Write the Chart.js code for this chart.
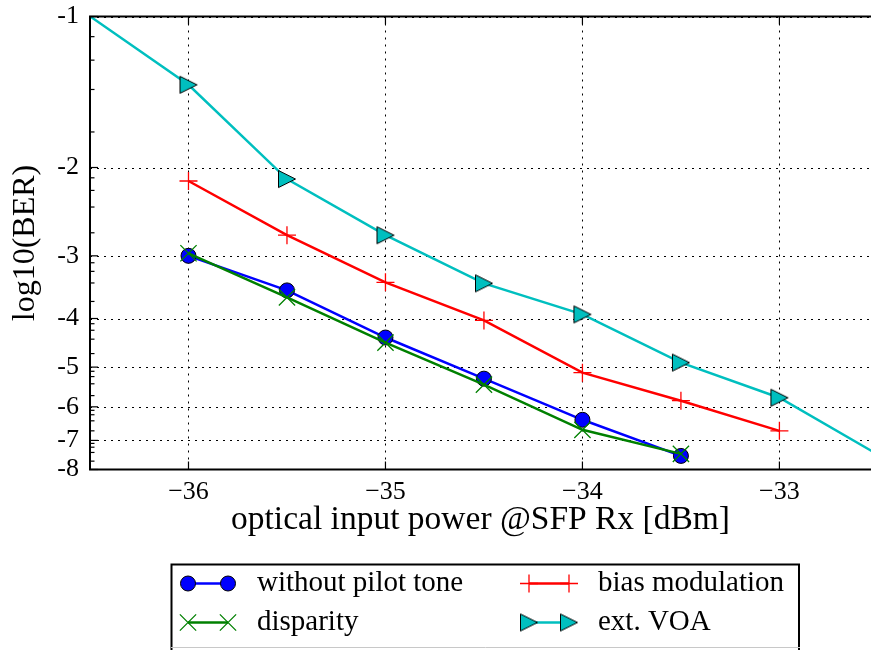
<!DOCTYPE html>
<html><head><meta charset="utf-8">
<script src="https://cdn.jsdelivr.net/npm/chart.js@4/dist/chart.umd.min.js"></script>
<style>
html,body{margin:0;padding:0;overflow:hidden;background:#fff;width:871px;height:650px;}
#wrap{position:relative;width:871px;height:650px;}
canvas{display:block;}
</style></head><body>
<div id="wrap"><canvas id="c" width="871" height="650" style="width:871px;height:650px"></canvas></div>
<script>
// values are -log10(BER); axis shows log10(BER)
const pilotPowers = [-36, -35.5, -35, -34.5, -34, -33.5];
const withoutPilotTone = [3.0, 3.516, 4.365, 5.272, 6.368, 7.516];
const disparityPowers = [-36, -35.5, -35, -34.5, -34, -33.5];
const disparity = [2.965, 3.631, 4.467, 5.420, 6.668, 7.447];
const biasPowers = [-36, -35.5, -35, -34.5, -34, -33.5, -33];
const biasModulation = [2.128, 2.729, 3.388, 4.036, 5.129, 5.834, 6.699];
const voaPowers = [-37, -36, -35.5, -35, -34.5, -34, -33.5, -33, -32];
const extVOA = [0.73, 1.368, 2.109, 2.729, 3.404, 3.926, 4.898, 5.754, 9.7];
const xTicks = [-36, -35, -34, -33];
const yTicks = [1, 2, 3, 4, 5, 6, 7, 8];
const yMinorMantissas = [8, 6, 4, 2];
const seriesLabels = ['without pilot tone', 'disparity', 'bias modulation', 'ext. VOA'];

const FONT = "'Liberation Serif', 'Times New Roman', serif";
Chart.defaults.font.family = FONT;
Chart.defaults.color = '#000';

function triImg() {
  const c = document.createElement('canvas');
  c.width = 20; c.height = 20;
  const g = c.getContext('2d');
  g.beginPath(); g.moveTo(18.5, 10); g.lineTo(1.5, 1.5); g.lineTo(1.5, 18.5); g.closePath();
  g.fillStyle = '#00bfbf'; g.fill();
  g.lineWidth = 1; g.strokeStyle = '#000'; g.stroke();
  return c;
}
const TRI = triImg();
const pts = (xs, ys) => xs.map((x, i) => ({x: x, y: ys[i]}));

const datasets = [
  {label: seriesLabels[0], data: pts(pilotPowers, withoutPilotTone), borderColor: '#0000ff', borderWidth: 2.5,
   pointStyle: 'circle', pointRadius: 7.5, pointBackgroundColor: '#0000ff', pointBorderColor: '#000', pointBorderWidth: 1, order: 4},
  {label: seriesLabels[1], data: pts(disparityPowers, disparity), borderColor: '#008000', borderWidth: 2.5,
   pointStyle: 'crossRot', pointRadius: 11.5, pointBackgroundColor: '#008000', pointBorderColor: '#008000', pointBorderWidth: 1.3, order: 3},
  {label: seriesLabels[2], data: pts(biasPowers, biasModulation), borderColor: '#ff0000', borderWidth: 2.5,
   pointStyle: 'cross', pointRadius: 9, pointBackgroundColor: '#ff0000', pointBorderColor: '#ff0000', pointBorderWidth: 1.3, order: 2},
  {label: seriesLabels[3], data: pts(voaPowers, extVOA), borderColor: '#00bfbf', borderWidth: 2.5,
   pointStyle: TRI, pointRadius: 9, pointBackgroundColor: '#00bfbf', pointBorderColor: '#000', pointBorderWidth: 1, order: 1}
];

function line(ctx, x1, y1, x2, y2) { ctx.beginPath(); ctx.moveTo(x1, y1); ctx.lineTo(x2, y2); ctx.stroke(); }

const decor = {
  id: 'decor',
  beforeDatasetsDraw(chart) {
    const {ctx, chartArea: a, scales: {x, y}} = chart;
    ctx.save();
    ctx.beginPath(); ctx.rect(a.left, a.top, a.right - a.left, a.bottom - a.top); ctx.clip();
    ctx.strokeStyle = '#000'; ctx.lineWidth = 1; ctx.setLineDash([2, 5]);
    xTicks.forEach(v => { const p = Math.round(x.getPixelForValue(v)) + 0.5; line(ctx, p, a.top, p, a.bottom); });
    yTicks.forEach(v => { const p = Math.round(y.getPixelForValue(v)) + 0.5; line(ctx, a.left, p, a.right, p); });
    ctx.restore();
  },
  afterDatasetsDraw(chart) {
    const {ctx, chartArea: a, scales: {x, y}} = chart;
    ctx.save();
    ctx.setLineDash([]);
    ctx.strokeStyle = '#000';
    ctx.lineWidth = 1.2;
    xTicks.forEach(v => { const p = x.getPixelForValue(v); line(ctx, p, a.bottom, p, a.bottom - 8); line(ctx, p, a.top, p, a.top + 8); });
    yTicks.forEach(v => { const p = y.getPixelForValue(v); line(ctx, a.left, p, a.left + 8, p); });
    for (let n = 1; n < 8; n++) {
      yMinorMantissas.forEach(k => {
        const v = n + 1 - Math.log10(k);
        const p = y.getPixelForValue(v);
        line(ctx, a.left, p, a.left + 4.5, p);
      });
    }
    // spines: left, top, bottom (right spine lies beyond the visible frame)
    ctx.lineWidth = 2;
    ctx.beginPath();
    ctx.moveTo(a.right + 2, a.top); ctx.lineTo(a.left, a.top); ctx.lineTo(a.left, a.bottom); ctx.lineTo(a.right + 2, a.bottom);
    ctx.stroke();

    // legend
    ctx.lineWidth = 2;
    ctx.strokeStyle = '#000';
    ctx.beginPath(); ctx.moveTo(171.5, 652); ctx.lineTo(171.5, 564.5); ctx.lineTo(799, 564.5); ctx.lineTo(799, 652); ctx.stroke();
    ctx.lineWidth = 1; ctx.strokeStyle = '#c8c8c8';
    line(ctx, 171, 647.5, 800, 647.5);
    const colX = [188, 529], rowY = [583.5, 622.5], textOff = 69;
    chart.data.datasets.forEach((ds, i) => {
      const cx = colX[Math.floor(i / 2)], cy = rowY[i % 2];
      ctx.strokeStyle = ds.borderColor; ctx.lineWidth = ds.borderWidth;
      line(ctx, cx, cy, cx + 40, cy);
      [cx, cx + 40].forEach(px => {
        ctx.fillStyle = ds.pointBackgroundColor; ctx.strokeStyle = ds.pointBorderColor; ctx.lineWidth = ds.pointBorderWidth;
        Chart.helpers.drawPoint(ctx, {pointStyle: ds.pointStyle, radius: ds.pointRadius, rotation: 0, borderWidth: ds.pointBorderWidth}, px, cy);
      });
      ctx.fillStyle = '#000';
      ctx.font = "29px " + FONT;
      ctx.textBaseline = 'middle'; ctx.textAlign = 'left';
      ctx.fillText(ds.label, cx + textOff, cy);
    });
    ctx.restore();
  }
};

function noPad(s) { s.paddingTop = 0; s.paddingBottom = 0; s.paddingLeft = 0; s.paddingRight = 0; }

new Chart(document.getElementById('c'), {
  type: 'line',
  data: {datasets: datasets},
  options: {
    responsive: false, maintainAspectRatio: false, animation: false, devicePixelRatio: 1,
    layout: {autoPadding: false, padding: {left: 0, top: 16.5, right: 0, bottom: 0}},
    elements: {line: {tension: 0}},
    plugins: {legend: {display: false}, tooltip: {enabled: false}},
    events: [],
    scales: {
      x: {
        type: 'linear', min: -36.5, max: -32.535,
        afterBuildTicks: s => { s.ticks = xTicks.map(v => ({value: v})); },
        afterFit: s => { s.height = 180.5; noPad(s); },
        grid: {display: false, drawTicks: false},
        border: {display: false},
        ticks: {font: {size: 26}, padding: 7, maxRotation: 0, autoSkip: false,
                callback: v => (v < 0 ? '\u2212' : '') + Math.abs(v)},
        title: {display: true, text: 'optical input power @SFP Rx [dBm]', font: {size: 33.5}, padding: {top: 0, bottom: 110}}
      },
      y: {
        type: 'logarithmic', min: 1, max: 8, reverse: true,
        afterBuildTicks: s => { s.ticks = yTicks.map(v => ({value: v})); },
        afterFit: s => { s.width = 90; noPad(s); },
        grid: {display: false, drawTicks: false},
        border: {display: false},
        ticks: {font: {size: 26}, padding: 11, autoSkip: false, callback: v => '-' + v},
        title: {display: true, text: 'log10(BER)', font: {size: 32}, padding: {top: 6, bottom: 0}}
      }
    }
  },
  plugins: [decor]
});
</script>
</body></html>
